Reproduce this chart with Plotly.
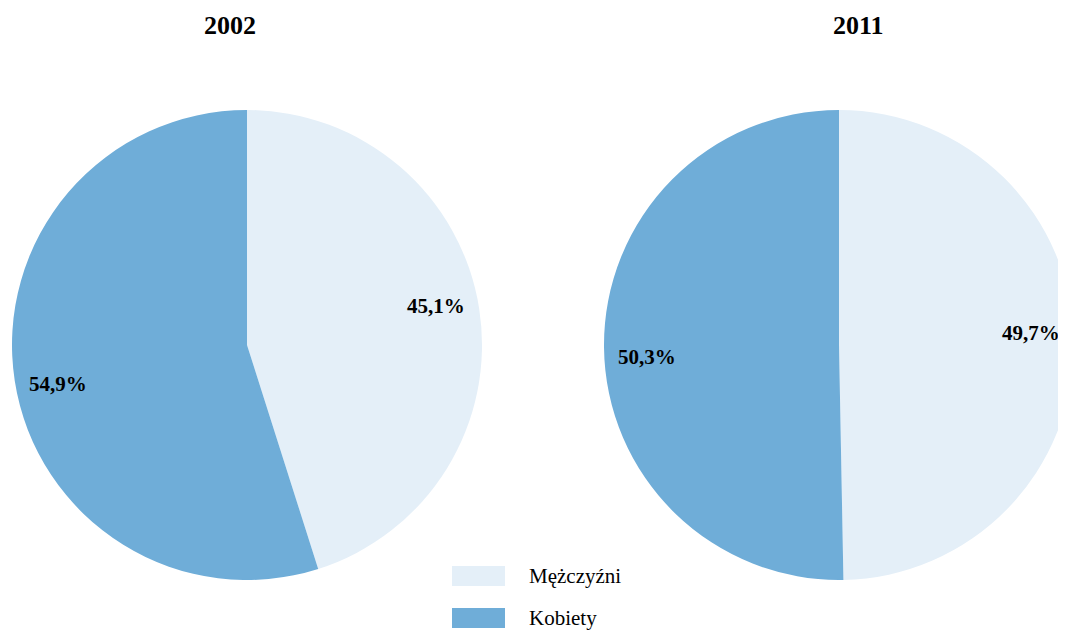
import math
import plotly.graph_objects as go

# ---------------------------
# Data
# ---------------------------
years = ["2002", "2011"]
labels = ["Mężczyźni", "Kobiety"]
share_2002 = [45.1, 54.9]
share_2011 = [49.7, 50.3]
colors = ["#E4EFF8", "#6FADD8"]

FONT = "Liberation Serif, Times New Roman, serif"
W, H = 1066, 630

# pie boxes in px (left, right, top, bottom)
boxes = [(4, 474, 102, 572), (596, 1066, 102, 572)]


def pct(v):
    return f"<b>{v:.1f}%</b>".replace(".", ",")


fig = go.Figure()

for (x0, x1, y0, y1), vals in zip(boxes, [share_2002, share_2011]):
    fig.add_trace(go.Pie(
        labels=labels, values=vals, sort=False, direction="clockwise",
        rotation=0, textinfo="none",
        marker=dict(colors=colors, line=dict(width=0)),
        domain=dict(x=[x0 / W, x1 / W], y=[1 - y1 / H, 1 - y0 / H]),
        showlegend=False, hoverinfo="label+percent",
    ))

    # value labels near the rim, roughly along each slice's bisector
    cx, cy = (x0 + x1) / 2, (y0 + y1) / 2
    r = 0.82 * (y1 - y0) / 2
    total = sum(vals)
    start = 0.0
    for v in vals:
        mid = (start + v / 2) / total * 2 * math.pi - math.radians(3)
        start += v
        px, py = cx + r * math.sin(mid), cy - r * math.cos(mid)
        fig.add_annotation(x=px / W, y=1 - py / H, xref="paper", yref="paper",
                           text=pct(v), showarrow=False,
                           xanchor="center", yanchor="middle",
                           font=dict(family=FONT, size=21, color="black"))

# titles
for xc, yr in zip([222, 850], years):
    fig.add_annotation(x=xc / W, y=1 - 17 / H, xref="paper", yref="paper",
                       text=f"<b>{yr}</b>", showarrow=False,
                       xanchor="center", yanchor="middle",
                       font=dict(family=FONT, size=26, color="black"))

# legend drawn by hand (wide swatches)
for k, (lab, col) in enumerate(zip(labels, colors)):
    yc = 568 + 42 * k
    fig.add_shape(type="rect", xref="paper", yref="paper",
                  x0=444 / W, x1=497 / W,
                  y0=1 - (yc + 10) / H, y1=1 - (yc - 10) / H,
                  fillcolor=col, line=dict(width=0))
    fig.add_annotation(x=519 / W, y=1 - yc / H, xref="paper", yref="paper",
                       text=lab, showarrow=False,
                       xanchor="left", yanchor="middle",
                       font=dict(family=FONT, size=21, color="black"))

fig.update_layout(
    width=W, height=H,
    margin=dict(l=0, r=0, t=0, b=0),
    paper_bgcolor="white", plot_bgcolor="white",
)

fig.write_html("out.html")
